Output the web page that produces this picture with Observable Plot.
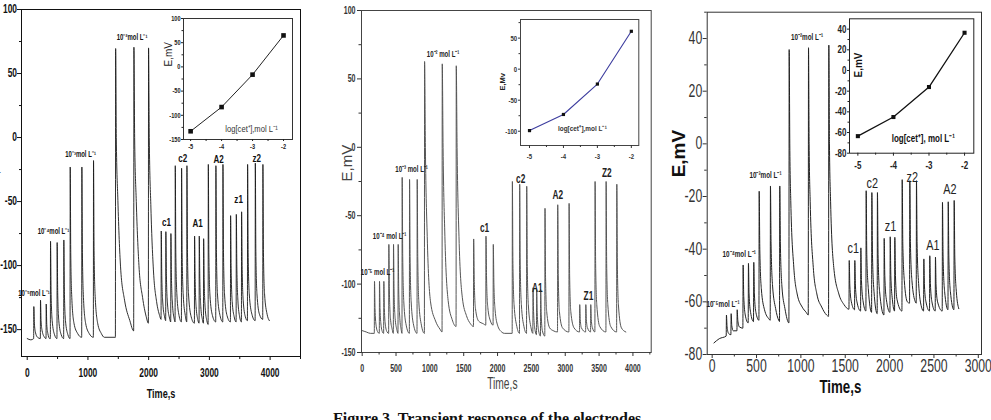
<!DOCTYPE html>
<html>
<head>
<meta charset="utf-8">
<script src="https://cdn.jsdelivr.net/npm/d3@7"></script>
<script src="https://cdn.jsdelivr.net/npm/@observablehq/plot@0.6"></script>
<style>
html, body { margin: 0; padding: 0; background: #fff; }
#fig { position: relative; width: 991px; height: 420px; overflow: hidden; background: #fff; }
.caption { position: absolute; left: 333px; top: 411px; font: bold 16px 'Liberation Serif', 'Times New Roman', serif; line-height: 16px; white-space: nowrap; color: #111; }
</style>
</head>
<body>
<div id="fig"></div>
<script>
const SANS = "'Liberation Sans', Arial, sans-serif";

// Potential–time traces [time (s), E (mV)]
const traceA = [
  [0,-157],[60,-158],[106,-157],
  [109,-132],[118,-145],[135,-152],[170,-156],[216,-157],
  [219,-127],[228,-143],[246,-151],[285,-156],[310,-157],
  [313,-130],[322,-146],[340,-153],[370,-157],[381,-157],
  [384,-81],[393,-120],[411,-143],[450,-154],[490,-157],
  [493,-82],[502,-121],[520,-143],[560,-154],[600,-157],
  [603,-80],[612,-120],[630,-143],[670,-154],[705,-157],
  [708,-23],[717,-90],[734,-125],[770,-145],[830,-153],[897,-156],
  [900,-23],[909,-90],[926,-125],[962,-145],[1020,-153],[1089,-156],
  [1092,-18],[1101,-88],[1119,-124],[1160,-145],[1220,-153],[1270,-156],[1452,-156],
  [1456,69.5],[1467,0],[1493,-49],[1537,-101],[1603,-127],[1690,-143],[1753,-151],
  [1757,70.5],[1769,0],[1796,-50],[1840,-100],[1900,-125],[1960,-140],[1995,-145],
  [1998,70],[2010,0],[2037,-55],[2080,-105],[2130,-128],[2180,-139],[2204,-142],
  [2207,-73],[2216,-108],[2234,-130],[2262,-140],[2280,-143],
  [2283,-73.5],[2292,-108],[2310,-130],[2343,-141],[2363,-144],
  [2366,-75],[2375,-109],[2393,-131],[2418,-141],[2435,-144],
  [2438,-22],[2447,-90],[2465,-123],[2500,-139],[2539,-144],
  [2542,-24],[2551,-90],[2569,-123],[2603,-139],[2627,-144],
  [2630,-22],[2639,-90],[2657,-123],[2700,-140],[2753,-145],
  [2756,-77],[2765,-110],[2781,-132],[2808,-142],[2830,-145],
  [2833,-77],[2842,-110],[2858,-132],[2884,-142],[2902,-145],
  [2905,-79],[2914,-111],[2930,-133],[2958,-143],[2979,-146],
  [2982,-21],[2991,-90],[3009,-123],[3050,-139],[3104,-144],
  [3107,-22],[3116,-90],[3134,-123],[3175,-139],[3220,-144],
  [3223,-21],[3232,-90],[3250,-123],[3290,-139],[3346,-144],
  [3349,-61],[3358,-102],[3375,-128],[3408,-140],[3440,-144],
  [3443,-60],[3452,-101],[3469,-127],[3498,-140],[3527,-144],
  [3530,-58],[3539,-100],[3556,-127],[3592,-140],[3626,-143],
  [3629,-21],[3638,-90],[3656,-122],[3700,-138],[3753,-143],
  [3756,-20],[3765,-89],[3783,-122],[3824,-138],[3878,-142],
  [3881,-21],[3890,-90],[3908,-122],[3950,-138],[3987,-143]
];

const traceB = [
  [0,-134],[60,-135],[120,-136],[179,-136],
  [182,-98],[190,-118],[205,-130],[230,-135],[253,-136],
  [256,-98],[264,-118],[279,-130],[300,-135],[317,-136],
  [320,-98],[328,-118],[343,-130],[368,-135],[391,-136],
  [394,-71],[402,-105],[418,-125],[443,-133],[460,-136],
  [463,-71],[471,-105],[487,-125],[511,-133],[529,-136],
  [532,-71],[540,-105],[556,-125],[575,-133],[588,-136],
  [591,-22],[599,-80],[615,-113],[650,-130],[697,-136],
  [700,-23.5],[708,-80],[724,-113],[760,-130],[810,-136],
  [813,-23.5],[821,-80],[837,-113],[875,-130],[919,-136],
  [922,62.7],[934,0],[961,-65],[1010,-113],[1084,-127],[1150,-133],[1180,-135],
  [1183,61],[1195,0],[1222,-65],[1270,-112],[1330,-126],[1387,-131],
  [1390,59.6],[1402,0],[1430,-65],[1480,-110],[1540,-123],[1600,-129],[1644,-131],
  [1647,-67],[1656,-98],[1674,-118],[1720,-127],[1790,-129],[1826,-130],
  [1829,-65],[1838,-97],[1856,-117],[1895,-127],[1934,-130],
  [1937,-71],[1946,-100],[1964,-119],[2000,-130],[2060,-135],[2100,-136],[2216,-136],
  [2219,-25],[2227,-85],[2244,-115],[2285,-131],[2324,-136],
  [2327,-27],[2335,-86],[2352,-115],[2390,-131],[2428,-136],
  [2431,-28.5],[2439,-87],[2456,-116],[2495,-132],[2521,-136],
  [2524,-102.7],[2532,-120],[2549,-132],[2575,-137],
  [2578,-104],[2586,-121],[2603,-133],[2634,-138],
  [2637,-104],[2645,-122],[2662,-134],[2698,-138],
  [2701,-44.6],[2709,-95],[2726,-120],[2770,-132],[2820,-134],[2886,-135],
  [2889,-42],[2897,-94],[2914,-120],[2960,-132],[3054,-135],
  [3057,-41],[3065,-94],[3082,-120],[3130,-132],[3211,-135],
  [3214,-115],[3222,-126],[3239,-132],[3301,-135],
  [3304,-115],[3312,-126],[3329,-132],[3374,-135],
  [3377,-115],[3385,-126],[3402,-132],[3438,-135],
  [3441,-25],[3449,-85],[3466,-115],[3510,-131],[3601,-135],
  [3604,-25],[3612,-85],[3629,-115],[3672,-131],[3759,-135],
  [3762,-27],[3770,-86],[3787,-116],[3830,-132],[3895,-135]
];

const traceC = [
  [20,-75.6],[80,-74],[158,-73],
  [161,-65],[168,-69.5],[185,-72],[211,-72.5],
  [214,-64.5],[221,-69],[238,-71],[279,-71],
  [282,-63],[289,-67],[306,-69.5],[346,-70],
  [349,-46],[356,-58],[373,-65],[406,-68],
  [409,-45.4],[416,-57],[433,-64],[466,-67.5],
  [469,-45],[476,-57],[493,-64],[527,-67],
  [530,-18],[537,-40],[554,-55],[590,-63],[640,-66.5],[654,-67],
  [657,-16],[664,-38],[681,-54],[715,-62.5],[750,-67],[759,-67.5],
  [762,-16],[769,-38],[786,-54],[820,-62.5],[865,-68],
  [868,35.8],[875,0],[886,-21.6],[920,-46.8],[958,-57],[1015,-62],[1060,-64],[1083,-65],
  [1086,36.5],[1093,0],[1105,-22],[1140,-47],[1180,-57],[1235,-62],[1290,-65],[1312,-65.5],
  [1315,37.5],[1322,0],[1335,-22],[1371,-47],[1428,-57],[1485,-61],[1542,-62.8],
  [1545,-44.3],[1552,-54],[1569,-60],[1605,-63],
  [1608,-44.3],[1615,-54],[1632,-60],[1673,-63.5],
  [1676,-39.5],[1683,-52],[1700,-59.5],[1733,-63.5],
  [1736,-17.8],[1743,-42],[1760,-55],[1797,-64],
  [1800,-18.5],[1807,-42],[1824,-56],[1860,-64.5],
  [1863,-18.5],[1870,-42],[1887,-56],[1936,-65],
  [1939,-35.9],[1946,-50],[1963,-59],[2004,-64],
  [2007,-35.3],[2014,-50],[2031,-59],[2056,-63.5],
  [2059,-35.5],[2066,-50],[2083,-59],[2139,-63.5],
  [2142,-13.6],[2149,-38],[2166,-52],[2200,-60],[2225,-60.5],
  [2228,-14],[2235,-38],[2252,-52],[2290,-60],[2300,-60.5],
  [2303,-14],[2310,-38],[2327,-53],[2360,-62],[2383,-63.5],
  [2386,-43.7],[2393,-54],[2410,-60],[2450,-63.5],
  [2453,-42.5],[2460,-53],[2477,-60],[2514,-63.5],
  [2517,-43],[2524,-54],[2541,-60],[2593,-63.5],
  [2596,-22.2],[2603,-43],[2620,-56],[2658,-63],
  [2661,-22],[2668,-43],[2685,-56],[2725,-63],
  [2728,-21.5],[2735,-43],[2752,-56],[2780,-62.6]
];

// Calibration: log[cet+] vs E (mV)
const logConc = [-5, -4, -3, -2];
const calibA = [-133, -83, -16, 65];
const calibB = [-99, -73, -24, 61];
const calibC = [-63.5, -45, -16, 36.5];

// Annotations: text with anchor time (s) and E (mV)
const concTextA = ["10⁻⁵mol L⁻¹", "10⁻⁴mol L⁻¹", "10⁻³mol L⁻¹", "10⁻²mol L⁻¹"];
const concTextB = ["10⁻⁵ mol L⁻¹", "10⁻⁴ mol L⁻¹", "10⁻³ mol L⁻¹", "10⁻² mol L⁻¹"];
const concTA = [112, 433, 878, 1727], concEA = [-122, -73, -13, 78];
const concTB = [226, 404, 729, 1195], concEB = [-91, -65, -16, 68.6];
const concTC = [122, 304, 601, 1069], concEC = [-61, -41.7, -12, 40.6];

const sampleA = ["c1", "c2", "A1", "A2", "z1", "z2"];
const sampleTA = [2295, 2559, 2806, 3152, 3481, 3778], sampleEA = [-66, -16, -67, -17, -48, -16];
const sampleB = ["c1", "c2", "A1", "A2", "Z1", "Z2"];
const sampleTB = [1809, 2342, 2589, 2889, 3343, 3614], sampleEB = [-59, -23, -103, -35, -108.6, -18.5];
const sampleC = ["c1", "c2", "z1", "z2", "A1", "A2"];
const sampleTC = [1590, 1804, 2010, 2255, 2487, 2679], sampleEC = [-39.4, -14.7, -31.3, -12.5, -38.6, -17.2];

const xLabel = "Time,s";
const yLabel = "E,mV";
const insetXLabel = ["log[cet⁺],mol L⁻¹", "log[cet⁺],mol L⁻¹", "log[cet⁺], mol L⁻¹"];
const insetYLabel = ["E,mV", "E,Mv", "E,mV"];
const insetLabelLog = [-3.03, -3.44, -3.16], insetLabelE = [-128.7, -96.3, -66];

const fig = document.getElementById("fig");
const zip = (texts, ts, es) => texts.map((text, i) => ({text, t: ts[i], e: es[i]}));
const calRows = (vals) => logConc.map((c, i) => ({c, e: vals[i]}));
const fmt = (d) => String(d);
const blank = () => "";

// Condensed lettering: compress every horizontal text of a chart to a share of its width
function condense(svg, k) {
  svg.querySelectorAll("text").forEach((t) => {
    if ((t.getAttribute("transform") || "").includes("rotate")) return;
    const w = t.getComputedTextLength();
    if (w > 0) {
      t.setAttribute("textLength", (w * k).toFixed(2));
      t.setAttribute("lengthAdjust", "spacingAndGlyphs");
    }
  });
}

function place(el, left, top, k) {
  el.style.position = "absolute";
  el.style.left = left + "px";
  el.style.top = top + "px";
  el.style.overflow = "visible";
  fig.appendChild(el);
  condense(el, k);
}

// ---------- Panel A ----------
place(Plot.plot({
  width: 330, height: 420, marginLeft: 21, marginRight: 30, marginTop: 9, marginBottom: 64,
  style: {fontFamily: SANS, background: "transparent", color: "#111"},
  x: {domain: [-94, 4500]}, y: {domain: [-171, 100]},
  marks: [
    Plot.frame({stroke: "#111"}),
    Plot.axisX({ticks: [0, 1000, 2000, 3000, 4000], tickSize: 4, tickPadding: 7.7, fontSize: 12, fontWeight: "bold", tickFormat: fmt, label: null}),
    Plot.axisX({ticks: [500, 1500, 2500, 3500, 4500], tickSize: 3, tickFormat: blank, label: null}),
    Plot.axisY({ticks: [-150, -100, -50, 0, 50, 100], tickSize: 4, tickPadding: 0.5, fontSize: 12, fontWeight: "bold", tickFormat: fmt, label: null}),
    Plot.axisY({ticks: [-125, -75, -25, 25, 75], tickSize: 2, tickFormat: blank, label: null}),
    Plot.line(traceA, {x: d => d[0], y: d => d[1], curve: "monotone-x", stroke: "#1a1a1a", strokeWidth: 0.9}),
    Plot.text(zip(concTextA, concTA, concEA), {x: "t", y: "e", text: "text", fontSize: 8.5, fontWeight: "bold", fill: "#111"}),
    Plot.text(zip(sampleA, sampleTA, sampleEA), {x: "t", y: "e", text: "text", fontSize: 11.5, fontWeight: "bold", fill: "#111"}),
    Plot.text([xLabel], {frameAnchor: "bottom", dy: 41, text: d => d, fontSize: 13, fontWeight: "bold", fill: "#111"}),
    Plot.text([yLabel], {frameAnchor: "left", dx: -27, rotate: -90, text: d => d, fontSize: 13, fill: "#111"})
  ]
}), 0, 0, 0.7);

// inset A
place(Plot.plot({
  width: 150, height: 160, marginLeft: 33, marginRight: 8, marginTop: 18, marginBottom: 21,
  style: {fontFamily: SANS, background: "transparent", color: "#222"},
  x: {domain: [-5.23, -1.71]}, y: {domain: [-150, 100]},
  marks: [
    Plot.frame({stroke: "#333"}),
    Plot.axisX({ticks: logConc, tickSize: 2, tickPadding: 3, fontSize: 7, fontWeight: "bold", tickFormat: fmt, label: null}),
    Plot.axisX({ticks: [-4.5, -3.5, -2.5], tickSize: 2, tickFormat: blank, label: null}),
    Plot.axisY({ticks: [-150, -100, -50, 0, 50, 100], tickSize: 2, tickPadding: 1, fontSize: 7, fontWeight: "bold", tickFormat: fmt, label: null}),
    Plot.axisY({ticks: [-125, -75, -25, 25, 75], tickSize: 1.5, tickFormat: blank, label: null}),
    Plot.line(calRows(calibA), {x: "c", y: "e", stroke: "#222", strokeWidth: 1}),
    Plot.dot(calRows(calibA), {x: "c", y: "e", symbol: "square", r: 2.6, fill: "#111"}),
    Plot.text([insetYLabel[0]], {frameAnchor: "left", dx: -15, dy: -12.5, rotate: -90, text: d => d, fontSize: 10, fill: "#222"}),
    Plot.text([{t: insetXLabel[0], c: insetLabelLog[0], e: insetLabelE[0]}], {x: "c", y: "e", text: "t", fontSize: 9.5, fill: "#333"})
  ]
}), 150, 0, 0.8);

// ---------- Panel B ----------
place(Plot.plot({
  width: 330, height: 420, marginLeft: 31, marginRight: 9.3, marginTop: 10, marginBottom: 68,
  style: {fontFamily: SANS, background: "transparent", color: "#333"},
  x: {domain: [-10, 4270]}, y: {domain: [-150, 100]},
  marks: [
    Plot.frame({stroke: "#444"}),
    Plot.axisX({ticks: [0, 500, 1000, 1500, 2000, 2500, 3000, 3500, 4000], tickSize: 4, tickPadding: 8, fontSize: 11, fontWeight: "bold", tickFormat: fmt, label: null}),
    Plot.axisX({ticks: [250, 750, 1250, 1750, 2250, 2750, 3250, 3750, 4250], tickSize: 2.5, tickFormat: blank, label: null}),
    Plot.axisY({ticks: [-150, -100, -50, 0, 50, 100], tickSize: 4, tickPadding: 2, fontSize: 11, fontWeight: "bold", tickFormat: fmt, label: null}),
    Plot.axisY({ticks: [-125, -75, -25, 25, 75], tickSize: 2.5, tickFormat: blank, label: null}),
    Plot.line(traceB, {x: d => d[0], y: d => d[1], curve: "monotone-x", stroke: "#555", strokeWidth: 1}),
    Plot.text(zip(concTextB, concTB, concEB), {x: "t", y: "e", text: "text", fontSize: 9.5, fontWeight: "bold", fill: "#222"}),
    Plot.text(zip(sampleB, sampleTB, sampleEB), {x: "t", y: "e", text: "text", fontSize: 13, fontWeight: "bold", fill: "#222"}),
    Plot.text([xLabel], {frameAnchor: "bottom", dx: -4, dy: 36, text: d => d, fontSize: 16, fill: "#444"}),
    Plot.text([yLabel], {frameAnchor: "left", dx: -14.3, rotate: -90, text: d => d, fontSize: 15, fill: "#444"})
  ]
}), 330, 0, 0.64);

// inset B
place(Plot.plot({
  width: 170, height: 175, marginLeft: 40, marginRight: 11.7, marginTop: 19, marginBottom: 30,
  style: {fontFamily: SANS, background: "transparent", color: "#333"},
  x: {domain: [-5.265, -1.78]}, y: {domain: [-123, 80]},
  marks: [
    Plot.frame({stroke: "#444"}),
    Plot.axisX({ticks: logConc, tickSize: 3, tickPadding: 4.8, fontSize: 7.5, fontWeight: "bold", tickFormat: fmt, label: null}),
    Plot.axisX({ticks: [-4.5, -3.5, -2.5], tickSize: 2, tickFormat: blank, label: null}),
    Plot.axisY({ticks: [-100, -50, 0, 50], tickSize: 2, tickPadding: 1.3, fontSize: 7.5, fontWeight: "bold", tickFormat: fmt, label: null}),
    Plot.axisY({ticks: [-75, -25, 25, 75], tickSize: 1.5, tickFormat: blank, label: null}),
    Plot.line(calRows(calibB), {x: "c", y: "e", stroke: "#3c3c9e", strokeWidth: 1.1}),
    Plot.dot(calRows(calibB), {x: "c", y: "e", symbol: "square", r: 1.8, fill: "#111"}),
    Plot.text([insetYLabel[1]], {frameAnchor: "left", dx: -17.5, dy: 8, rotate: -90, text: d => d, fontSize: 7.5, fontWeight: "bold", fill: "#222"}),
    Plot.text([{t: insetXLabel[1], c: insetLabelLog[1], e: insetLabelE[1]}], {x: "c", y: "e", text: "t", fontSize: 8, fontWeight: "bold", fill: "#333"})
  ]
}), 480, 0, 0.8);

// ---------- Panel C ----------
place(Plot.plot({
  width: 331, height: 420, marginLeft: 46.7, marginRight: 10, marginTop: 11.7, marginBottom: 66,
  style: {fontFamily: SANS, background: "transparent", color: "#333"},
  x: {domain: [-56, 3036]}, y: {domain: [-80, 50]},
  marks: [
    Plot.frame({stroke: "#333"}),
    Plot.axisX({ticks: [0, 500, 1000, 1500, 2000, 2500, 3000], tickSize: 4, tickPadding: 0.8, fontSize: 17.5, tickFormat: fmt, label: null}),
    Plot.axisX({ticks: [250, 750, 1250, 1750, 2250, 2750], tickSize: 2.5, tickFormat: blank, label: null}),
    Plot.axisY({ticks: [-80, -60, -40, -20, 0, 20, 40], tickSize: 4, tickPadding: 1, fontSize: 17.5, tickFormat: fmt, label: null}),
    Plot.axisY({ticks: [-70, -50, -30, -10, 10, 30, 50], tickSize: 2.5, tickFormat: blank, label: null}),
    Plot.line(traceC, {x: d => d[0], y: d => d[1], curve: "monotone-x", stroke: "#222", strokeWidth: 1}),
    Plot.text(zip(concTextA, concTC, concEC), {x: "t", y: "e", text: "text", fontSize: 9, fontWeight: "bold", fill: "#222"}),
    Plot.text(zip(sampleC, sampleTC, sampleEC), {x: "t", y: "e", text: "text", fontSize: 15.5, fill: "#222"}),
    Plot.text([xLabel], {frameAnchor: "bottom", dx: -4, dy: 38, text: d => d, fontSize: 19, fontWeight: "bold", fill: "#111"}),
    Plot.text([yLabel], {frameAnchor: "left", dx: -28.7, dy: -6, rotate: -90, text: d => d, fontSize: 19, fontWeight: "bold", fill: "#111"})
  ]
}), 660, 0, 0.7);

// inset C
place(Plot.plot({
  width: 175, height: 185, marginLeft: 39, marginRight: 11.7, marginTop: 18.3, marginBottom: 32.3,
  style: {fontFamily: SANS, background: "transparent", color: "#222"},
  x: {domain: [-5.235, -1.74]}, y: {domain: [-80, 50]},
  marks: [
    Plot.frame({stroke: "#222"}),
    Plot.axisX({ticks: logConc, tickSize: 3, tickPadding: 5, fontSize: 10.5, fontWeight: "bold", tickFormat: fmt, label: null}),
    Plot.axisX({ticks: [-4.5, -3.5, -2.5], tickSize: 2, tickFormat: blank, label: null}),
    Plot.axisY({ticks: [-80, -60, -40, -20, 0, 20, 40], tickSize: 2, tickPadding: 1, fontSize: 10.5, fontWeight: "bold", tickFormat: fmt, label: null}),
    Plot.axisY({ticks: [-70, -50, -30, -10, 10, 30], tickSize: 1.5, tickFormat: blank, label: null}),
    Plot.line(calRows(calibC), {x: "c", y: "e", stroke: "#111", strokeWidth: 1.3}),
    Plot.dot(calRows(calibC), {x: "c", y: "e", symbol: "square", r: 2.3, fill: "#111"}),
    Plot.text([insetYLabel[2]], {frameAnchor: "left", dx: 9.5, dy: -8.5, rotate: -90, text: d => d, fontSize: 10, fontWeight: "bold", fill: "#111"}),
    Plot.text([{t: insetXLabel[2], c: insetLabelLog[2], e: insetLabelE[2]}], {x: "c", y: "e", text: "t", fontSize: 10.5, fontWeight: "bold", fill: "#111"})
  ]
}), 810, 0, 0.76);

// Figure caption (partly below the visible area)
const cap = document.createElement("div");
cap.className = "caption";
cap.textContent = "Figure 3. Transient response of the electrodes";
fig.appendChild(cap);
</script>
</body>
</html>
